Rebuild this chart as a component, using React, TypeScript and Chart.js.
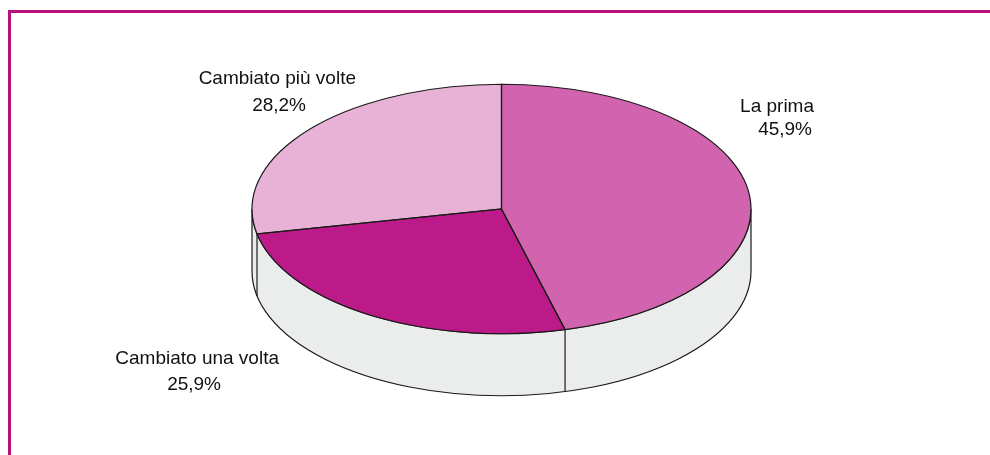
import React, { useEffect, useRef } from "react";
import { Chart, registerables } from "chart.js";

Chart.register(...registerables);

const categories = ["La prima", "Cambiato una volta", "Cambiato più volte"];
const shares = [45.9, 25.9, 28.2];
const sliceColors = ["#D263AE", "#BC1A88", "#E8B1D6"];
const valueLabels = ["45,9%", "25,9%", "28,2%"];

const CENTER_X = 501.5;
const CENTER_Y = 209;
const RADIUS = 249.5;
const SQUASH = 0.5;
const DEPTH = 62;
const WALL = "#EBEDEC";
const EDGE = "#1a1a1a";
const FONT = '19px "Liberation Sans", Arial, sans-serif';

// Caption anchors, one per category: right edge and baseline of each line.
const captions = [
  { x: 814, y: 112, vx: 812, vy: 135 },
  { x: 279, y: 364, vx: 221, vy: 390 },
  { x: 356, y: 84, vx: 306, vy: 111 },
];

const tilted3d = {
  id: "tilted3d",
  beforeDatasetsDraw(chart: Chart) {
    const { ctx } = chart;
    const arcs = chart.getDatasetMeta(0).data as any[];
    const cx = arcs[0].x;
    const cy = arcs[0].y;
    const r = arcs[0].outerRadius;
    const ry = r * SQUASH;

    // Side wall below the front half of the ellipse.
    ctx.save();
    ctx.translate(CENTER_X, CENTER_Y);
    ctx.beginPath();
    ctx.ellipse(0, 0, r, ry, 0, 0, Math.PI, false);
    ctx.ellipse(0, DEPTH, r, ry, 0, Math.PI, 0, true);
    ctx.closePath();
    ctx.fillStyle = WALL;
    ctx.fill();
    ctx.lineWidth = 1.2;
    ctx.strokeStyle = EDGE;
    ctx.stroke();

    // Seams where a slice boundary meets the visible wall.
    arcs.forEach((arc) => {
      const s = Math.sin(arc.endAngle);
      if (s > 0) {
        const x = r * Math.cos(arc.endAngle);
        const y = ry * s;
        ctx.beginPath();
        ctx.moveTo(x, y);
        ctx.lineTo(x, y + DEPTH);
        ctx.stroke();
      }
    });
    ctx.restore();

    // Flatten the pie itself onto the ellipse.
    ctx.save();
    ctx.translate(CENTER_X, CENTER_Y);
    ctx.scale(1, SQUASH);
    ctx.translate(-cx, -cy);
  },
  afterDatasetsDraw(chart: Chart) {
    const { ctx } = chart;
    ctx.restore();
    const arcs = chart.getDatasetMeta(0).data as any[];
    const r = arcs[0].outerRadius;
    const ry = r * SQUASH;

    // Outlines are stroked without the flattening so the pen stays even.
    ctx.save();
    ctx.translate(CENTER_X, CENTER_Y);
    ctx.lineWidth = 1.2;
    ctx.strokeStyle = EDGE;
    arcs.forEach((arc) => {
      ctx.beginPath();
      ctx.moveTo(0, 0);
      ctx.ellipse(0, 0, r, ry, 0, arc.startAngle, arc.endAngle, false);
      ctx.closePath();
      ctx.stroke();
    });
    ctx.restore();

    // Category captions with their shares underneath.
    ctx.save();
    ctx.font = FONT;
    ctx.fillStyle = "#111111";
    ctx.textBaseline = "alphabetic";
    ctx.textAlign = "right";
    categories.forEach((name, i) => {
      const c = captions[i];
      ctx.fillText(name, c.x, c.y);
      ctx.fillText(valueLabels[i], c.vx, c.vy);
    });
    ctx.restore();
  },
};

export default function App() {
  const ref = useRef<HTMLCanvasElement>(null);

  useEffect(() => {
    const chart = new Chart(ref.current!, {
      type: "pie",
      data: {
        labels: categories,
        datasets: [
          {
            data: shares,
            backgroundColor: sliceColors,
            borderWidth: 0,
            radius: RADIUS,
          },
        ],
      },
      options: {
        responsive: false,
        animation: false,
        plugins: { legend: { display: false }, tooltip: { enabled: false } },
      },
      plugins: [tilted3d],
    });
    return () => chart.destroy();
  }, []);

  return (
    <div style={{ position: "relative", width: 990, height: 455 }}>
      <style>{"html,body{margin:0;background:#fff;overflow:hidden}"}</style>
      <canvas ref={ref} width={990} height={455} style={{ display: "block" }} />
      <div
        style={{
          position: "absolute",
          left: 8,
          top: 10,
          width: 982,
          height: 445,
          boxSizing: "border-box",
          borderTop: "3px solid #B9107F",
          borderLeft: "3px solid #B9107F",
        }}
      />
    </div>
  );
}
